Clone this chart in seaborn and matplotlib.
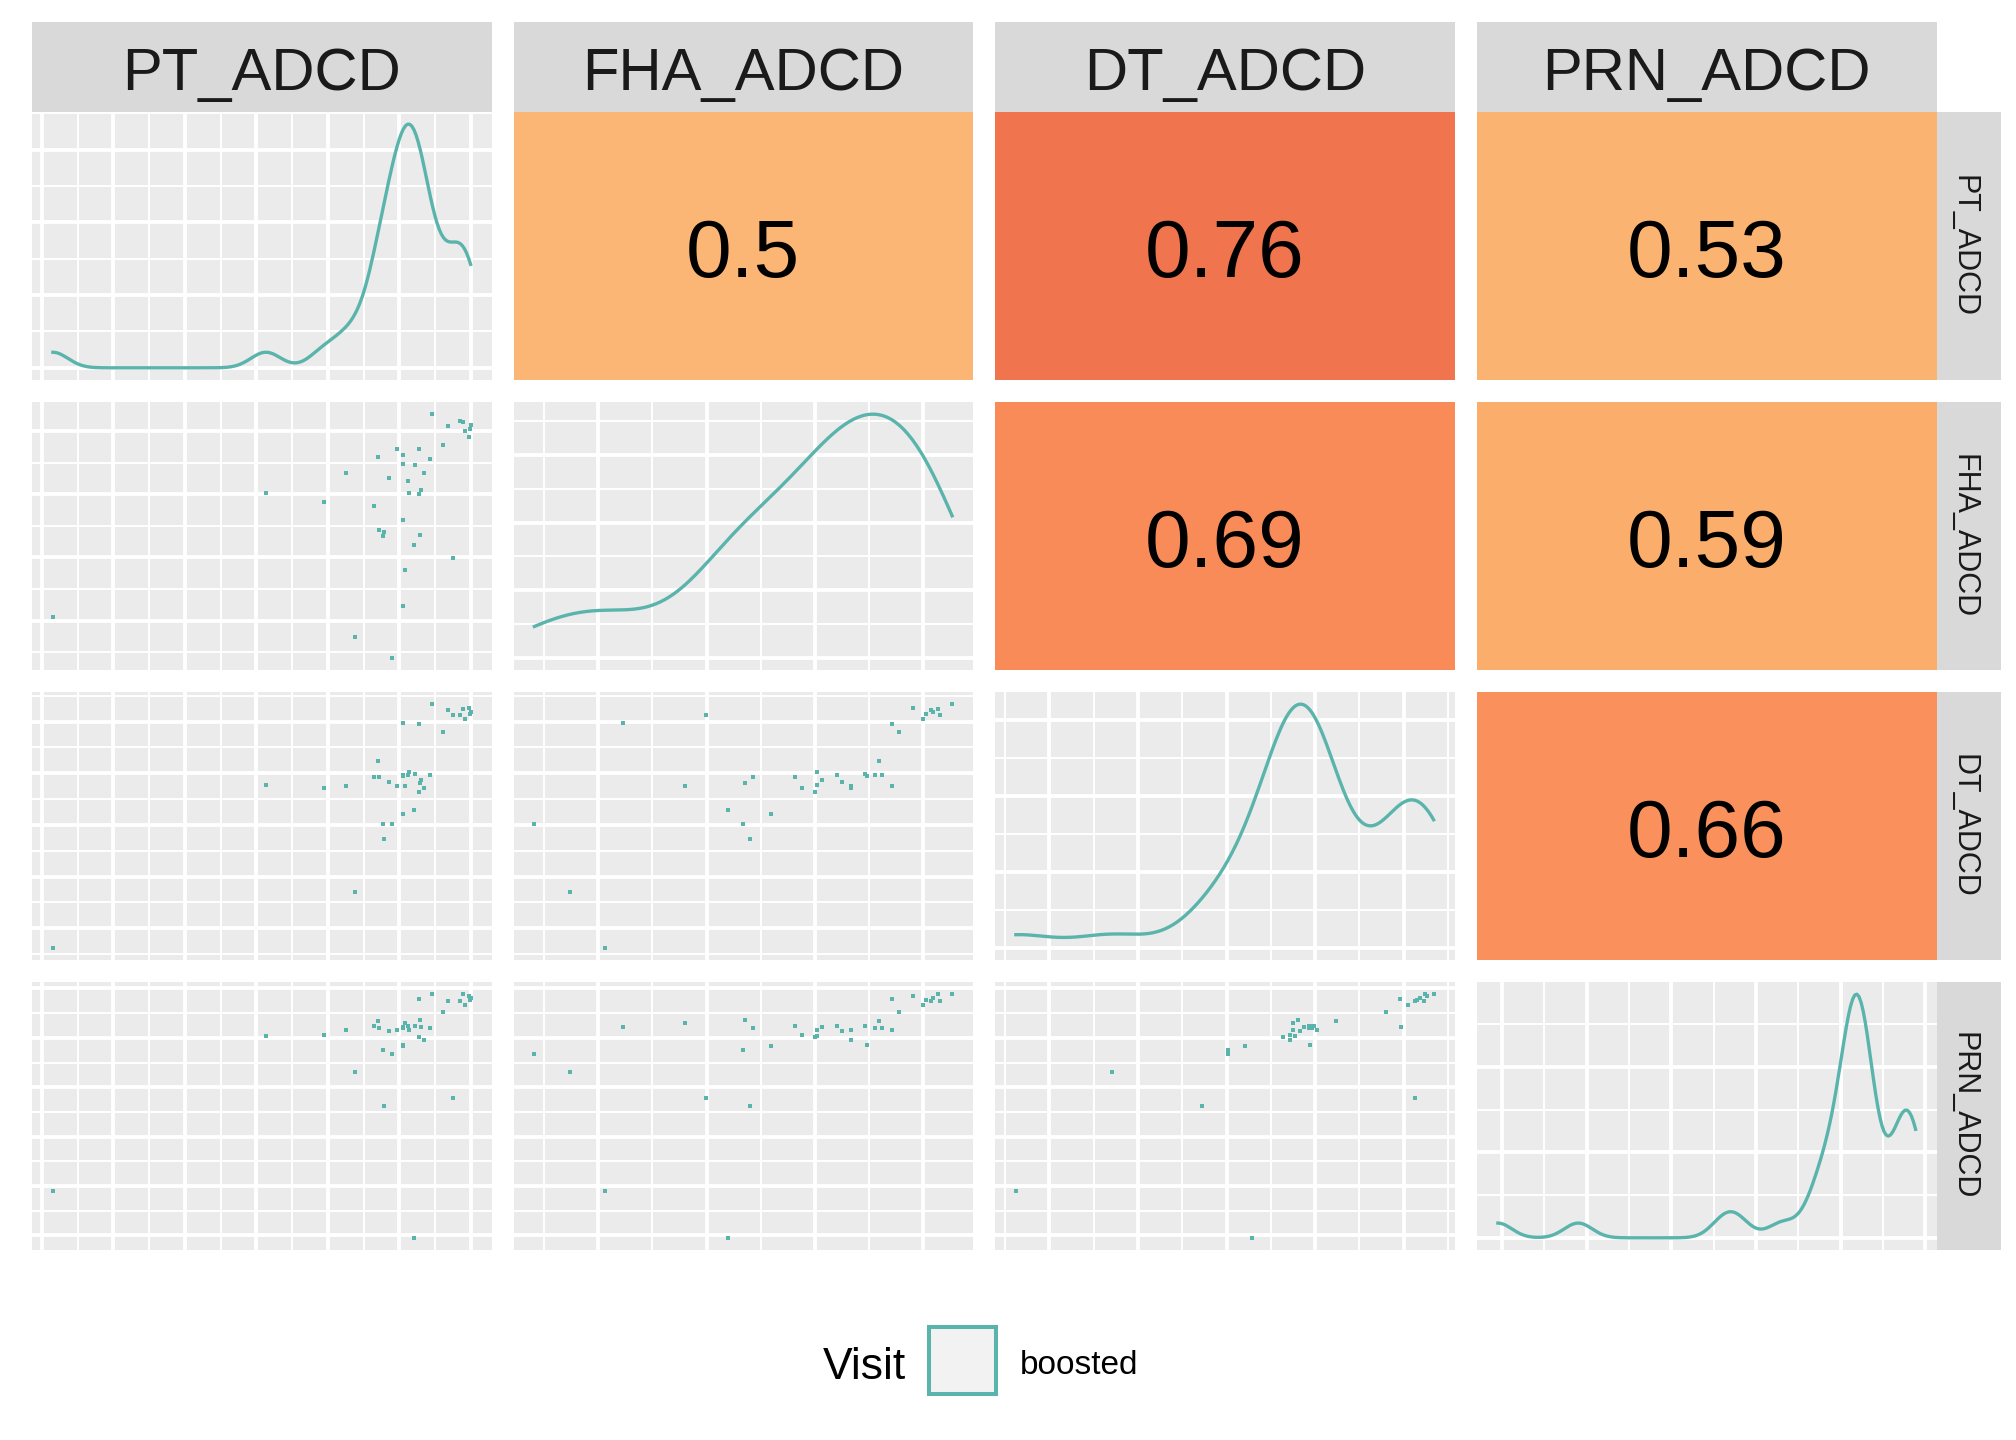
import numpy as np
import pandas as pd
import seaborn as sns
import matplotlib.pyplot as plt
from matplotlib.colors import LinearSegmentedColormap, Normalize
from matplotlib.patches import Rectangle
from matplotlib.ticker import MultipleLocator, MaxNLocator, AutoMinorLocator

# values (the original shows no axis labels, units are relative)
pt_adcd = [87.1, 90.4, 91.5, 93.2, 93.7, 94.1, 95.0, 95.2, 95.4, 89.3,
           79.5, 84.1, 84.1, 75.3, 80.8, 80.8, 80.8, 80.8, 81.2, 86.5,
           83.4, 68.3, 77.7, 85.2, 81.7, 81.9, 84.7, 74.5, 75.5, 76.6,
           76.4, 84.3, 83.0, 70.3, 78.4, 4.6, 50.9, 63.5]
fha_adcd = [95.5, 91.0, 41.8, 92.9, 92.5, 89.2, 86.9, 89.9, 91.4, 84.0,
            82.5, 82.5, 65.7, 79.5, 80.2, 76.9, 56.0, 23.9, 37.3, 78.7,
            76.5, 73.5, 71.6, 73.5, 70.5, 66.0, 67.2, 61.2, 52.2, 51.5,
            50.0, 50.4, 46.6, 12.3, 4.5, 19.8, 66.0, 62.7]
dt_adcd = [95.5, 93.3, 91.4, 91.4, 93.7, 89.9, 94.0, 91.8, 92.5, 85.1,
           64.9, 88.1, 62.7, 74.3, 69.0, 68.5, 54.5, 88.4, 64.9, 69.0,
           69.4, 64.9, 66.4, 64.2, 69.0, 70.1, 67.2, 68.3, 68.3, 45.1,
           50.7, 66.0, 56.0, 25.4, 50.7, 4.5, 65.3, 64.2]
prn_adcd = [95.5, 92.9, 56.7, 92.9, 95.5, 91.4, 94.8, 93.3, 94.0, 88.8,
            82.1, 93.7, 79.5, 85.4, 83.0, 76.5, 76.1, 83.2, 84.7, 82.8,
            83.6, 82.1, 81.7, 78.4, 83.6, 82.1, 83.2, 83.6, 82.8, 53.7,
            74.6, 85.8, 4.5, 66.4, 73.1, 22.0, 79.9, 80.2]

variables = ["PT_ADCD", "FHA_ADCD", "DT_ADCD", "PRN_ADCD"]
visit_levels = ["boosted"]

# correlations printed in the upper panels: (row, col) -> value
cor_pairs = [(0, 1), (0, 2), (0, 3), (1, 2), (1, 3), (2, 3)]
cor_values = [0.5, 0.76, 0.53, 0.69, 0.59, 0.66]

df = pd.DataFrame({"PT_ADCD": pt_adcd, "FHA_ADCD": fha_adcd,
                   "DT_ADCD": dt_adcd, "PRN_ADCD": prn_adcd})
df["Visit"] = visit_levels[0]

teal = "#5AB4AC"
panel_bg = "#EBEBEB"
strip_bg = "#D9D9D9"

# grid spacing per variable: (major step, major offset, minor step, minor offset)
grid_steps = {
    "PT_ADCD": (15.55, 2.18, 7.775, 2.18),
    "FHA_ADCD": (23.6, 18.4, 11.8, 6.6),
    "DT_ADCD": (19.3, 11.8, 9.65, 2.15),
    "PRN_ADCD": (18.45, 5.4, 9.225, 5.4),
}

cor_cmap = LinearSegmentedColormap.from_list(
    "cor", [(0.0, "#FBB574"), (0.35, "#FBAE6C"), (0.62, "#FA915C"),
            (0.73, "#F98B59"), (1.0, "#F0744E")])
cor_norm = Normalize(vmin=0.5, vmax=0.76)

plt.rcParams["font.family"] = ["Liberation Sans", "DejaVu Sans"]

W, H = 2016, 1440
fig = plt.figure(figsize=(W / 100, H / 100), dpi=100)


def box(x0, y0, w, h):
    return [x0 / W, 1 - (y0 + h) / H, w / W, h / H]


def nrd0_factor(x):
    # R's bw.nrd0, expressed as a factor of the sample sd for gaussian_kde
    x = np.asarray(x, dtype=float)
    sd = x.std(ddof=1)
    q75, q25 = np.percentile(x, [75, 25])
    bw = 0.9 * min(sd, (q75 - q25) / 1.34) * len(x) ** -0.2
    return bw / sd


def limits(v):
    lo, hi = df[v].min(), df[v].max()
    pad = 0.05 * (hi - lo)
    return lo - pad, hi + pad


def set_grid(axis, v):
    mj, mo, mn, no = grid_steps[v]
    axis.set_major_locator(MultipleLocator(mj, offset=mo))
    axis.set_minor_locator(MultipleLocator(mn, offset=no))


col_left = [32, 513.5, 995, 1477]
col_w = 459.5
row_top = [112, 402, 692, 982]
row_h = 268

for i, yv in enumerate(variables):
    for j, xv in enumerate(variables):
        ax = fig.add_axes(box(col_left[j], row_top[i], col_w, row_h))
        for s in ax.spines.values():
            s.set_visible(False)
        ax.tick_params(which="both", length=0, labelbottom=False, labelleft=False)

        if i < j:
            r = cor_values[cor_pairs.index((i, j))]
            ax.set_facecolor(cor_cmap(cor_norm(r)))
            ax.set_xticks([])
            ax.set_yticks([])
            ax.text(0.5, 0.385, f"{r:g}", transform=ax.transAxes, ha="center",
                    va="baseline", fontsize=59, color="black")
            continue

        ax.set_facecolor(panel_bg)
        ax.set_axisbelow(True)
        if i == j:
            sns.kdeplot(data=df, x=xv, ax=ax, color=teal, linewidth=2.4, cut=0,
                        bw_method=nrd0_factor(df[xv]))
            m = ax.lines[0].get_ydata().max()
            ax.set_ylim(-0.05 * m, 1.05 * m)
            ax.yaxis.set_major_locator(MaxNLocator(nbins=4))
            ax.yaxis.set_minor_locator(AutoMinorLocator(2))
        else:
            sns.scatterplot(data=df, x=xv, y=yv, ax=ax, color=teal, marker="s",
                            s=10, linewidth=0, legend=False)
            ax.set_ylim(*limits(yv))
            set_grid(ax.yaxis, yv)
        ax.set_xlim(*limits(xv))
        set_grid(ax.xaxis, xv)
        ax.grid(which="major", color="white", linewidth=2.8)
        ax.grid(which="minor", color="white", linewidth=1.4)
        ax.set_xlabel("")
        ax.set_ylabel("")

# top strips
for j, v in enumerate(variables):
    sax = fig.add_axes(box(col_left[j], 22, col_w, 90))
    sax.set_facecolor(strip_bg)
    sax.set_xticks([])
    sax.set_yticks([])
    for s in sax.spines.values():
        s.set_visible(False)
    sax.text(0.5, 0.245, v, transform=sax.transAxes, ha="center", va="baseline",
             fontsize=43, color="#1A1A1A")

# right strips
for i, v in enumerate(variables):
    sax = fig.add_axes(box(1937, row_top[i], 64, row_h))
    sax.set_facecolor(strip_bg)
    sax.set_xticks([])
    sax.set_yticks([])
    for s in sax.spines.values():
        s.set_visible(False)
    sax.text(0.42, 0.5, v, transform=sax.transAxes, ha="center", va="center",
             rotation=270, fontsize=22, color="#1A1A1A")

# legend
fig.text(823 / W, 1 - 1379 / H, "Visit", fontsize=32, ha="left", va="baseline")
fig.add_artist(Rectangle((929 / W, 1 - 1394 / H), 67 / W, 67 / H,
                         transform=fig.transFigure, facecolor="#F2F2F2",
                         edgecolor=teal, linewidth=2.9))
fig.text(1020 / W, 1 - 1374 / H, visit_levels[0], fontsize=24, ha="left",
         va="baseline")

fig.savefig("out.png", dpi=100)
